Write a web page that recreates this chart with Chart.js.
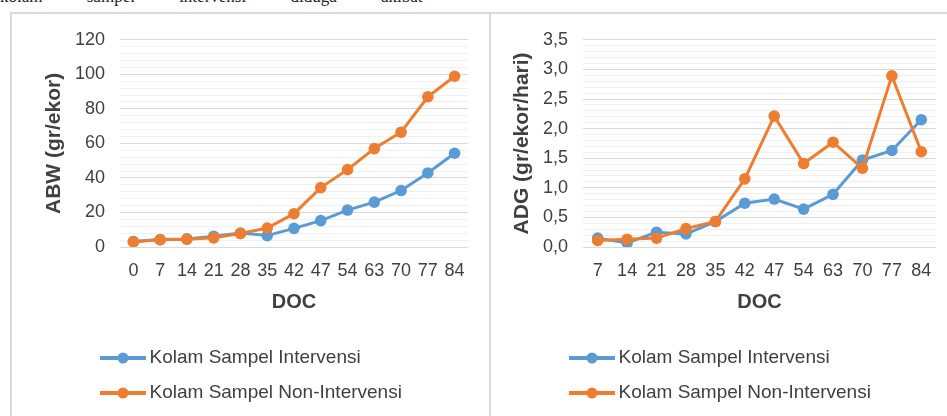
<!DOCTYPE html>
<html>
<head>
<meta charset="utf-8">
<script src="https://cdn.jsdelivr.net/npm/chart.js@4.4.1/dist/chart.umd.min.js"></script>
<style>
  body { margin: 0; width: 947px; height: 416px; overflow: hidden; background: #fff; position: relative; }
  .caption { position: absolute; left: 0; top: -13px; font: 17px "Liberation Serif", serif; word-spacing: 40px; white-space: nowrap; color: #222; }
  .panel { position: absolute; top: 12px; height: 420px; border-top: 2px solid #d9d9d9; border-left: 2px solid #d9d9d9; }
  #panelA { left: 10px; width: 477px; }
  #panelB { left: 489px; width: 470px; }
  canvas { position: absolute; left: 0; top: 0; }
</style>
</head>
<body>
<div class="caption">kolam sampel intervensi diduga akibat</div>
<div class="panel" id="panelA"><canvas id="abwChart" width="476" height="402"></canvas></div>
<div class="panel" id="panelB"><canvas id="adgChart" width="456" height="402"></canvas></div>
<script>
// ABW (gr/ekor) per DOC
const docAbw = ['0', '7', '14', '21', '28', '35', '42', '47', '54', '63', '70', '77', '84'];
const abwIntervensi = [3.2, 4.3, 4.7, 6.2, 8.1, 6.6, 10.8, 15.3, 21.4, 26, 32.7, 42.9, 54.3];
const abwNonIntervensi = [3, 4.2, 4.5, 5.3, 7.8, 11, 19.3, 34.4, 44.8, 57, 66.5, 87, 98.9];

// ADG (gr/ekor/hari) per DOC
const docAdg = ['7', '14', '21', '28', '35', '42', '47', '54', '63', '70', '77', '84'];
const adgIntervensi = [0.15, 0.07, 0.25, 0.22, 0.43, 0.74, 0.81, 0.64, 0.89, 1.47, 1.63, 2.15];
const adgNonIntervensi = [0.11, 0.13, 0.15, 0.31, 0.43, 1.15, 2.21, 1.41, 1.77, 1.33, 2.89, 1.61];

const BLUE = '#5B9BD5';
const ORANGE = '#ED7D31';
const TXT = '#404040';
const FONT = '"Liberation Sans", Arial, sans-serif';

Chart.defaults.font.family = FONT;

function legendIcon(color) {
  const c = document.createElement('canvas');
  c.width = 46; c.height = 12;
  const g = c.getContext('2d');
  g.strokeStyle = color; g.lineWidth = 4;
  g.beginPath(); g.moveTo(0, 6); g.lineTo(46, 6); g.stroke();
  g.fillStyle = color;
  g.beginPath(); g.arc(23, 6, 5.5, 0, Math.PI * 2); g.fill();
  return c;
}
const icons = [legendIcon(BLUE), legendIcon(ORANGE)];

// moves the legend sideways so the rows start where the excel legend does
const legendShift = {
  id: 'legendShift',
  afterLayout(chart, args, opts) {
    const lg = chart.legend;
    if (!lg) return;
    lg.left += opts.dx;
    lg.right += opts.dx;
  }
};

function buildChart(id, cfg) {
  const isMajor = v => Math.round(v / cfg.minor) % cfg.every === 0;
  return new Chart(document.getElementById(id), {
    type: 'line',
    data: {
      labels: cfg.labels,
      datasets: [
        { label: 'Kolam Sampel Intervensi', data: cfg.blue, borderColor: BLUE, backgroundColor: BLUE, order: 1 },
        { label: 'Kolam Sampel Non-Intervensi', data: cfg.orange, borderColor: ORANGE, backgroundColor: ORANGE, order: 0 }
      ]
    },
    options: {
      responsive: false,
      animation: false,
      layout: { padding: { top: 22, right: cfg.padRight, bottom: 3.5, left: 0 } },
      elements: {
        line: { borderWidth: 3, tension: 0 },
        point: { radius: 5.8, hoverRadius: 5.8, borderWidth: 0 }
      },
      scales: {
        x: {
          offset: true,
          afterFit: s => { s.height = 85.5; },
          grid: { display: false, drawTicks: false },
          border: { display: false },
          ticks: { color: TXT, font: { size: 18 }, padding: 13, autoSkip: false, maxRotation: 0 },
          title: { display: true, text: 'DOC', color: TXT, font: { size: 20, weight: 'bold' }, padding: { top: 8, bottom: 18 } }
        },
        y: {
          min: cfg.min,
          max: cfg.max,
          afterFit: s => { s.width = cfg.axisWidth; },
          border: { display: false },
          grid: {
            drawTicks: false,
            color: ctx => (ctx.tick && isMajor(ctx.tick.value)) ? '#d9d9d9' : '#f0f0f0'
          },
          ticks: {
            stepSize: cfg.minor,
            autoSkip: false,
            padding: 15,
            color: TXT,
            font: { size: 18 },
            callback: v => isMajor(v) ? cfg.fmt(v) : ''
          },
          title: { display: true, text: cfg.title, color: TXT, font: { size: 21, weight: 'bold' }, padding: { top: cfg.titlePad, bottom: 0 } }
        }
      },
      plugins: {
        tooltip: { enabled: false },
        legend: {
          position: 'bottom',
          align: 'start',
          fullSize: false,
          labels: {
            color: TXT,
            font: { size: 19 },
            padding: 16,
            usePointStyle: true,
            pointStyleWidth: 34,
            sort: (a, b) => a.datasetIndex - b.datasetIndex,
            generateLabels: chart => Chart.defaults.plugins.legend.labels.generateLabels(chart)
              .map(item => Object.assign(item, { pointStyle: icons[item.datasetIndex] }))
          }
        },
        legendShift: { dx: cfg.legendDx }
      }
    },
    plugins: [legendShift]
  });
}

buildChart('abwChart', {
  labels: docAbw, blue: abwIntervensi, orange: abwNonIntervensi,
  min: 0, max: 120, minor: 4, every: 5,
  fmt: v => String(Math.round(v)),
  title: 'ABW (gr/ekor)', titlePad: 30, axisWidth: 108, padRight: 20, legendDx: -30
});

buildChart('adgChart', {
  labels: docAdg, blue: adgIntervensi, orange: adgNonIntervensi,
  min: 0, max: 3.5, minor: 0.1, every: 5,
  fmt: v => v.toFixed(1).replace('.', ','),
  title: 'ADG (gr/ekor/hari)', titlePad: 19, axisWidth: 92, padRight: 11, legendDx: -24
});
</script>
</body>
</html>
